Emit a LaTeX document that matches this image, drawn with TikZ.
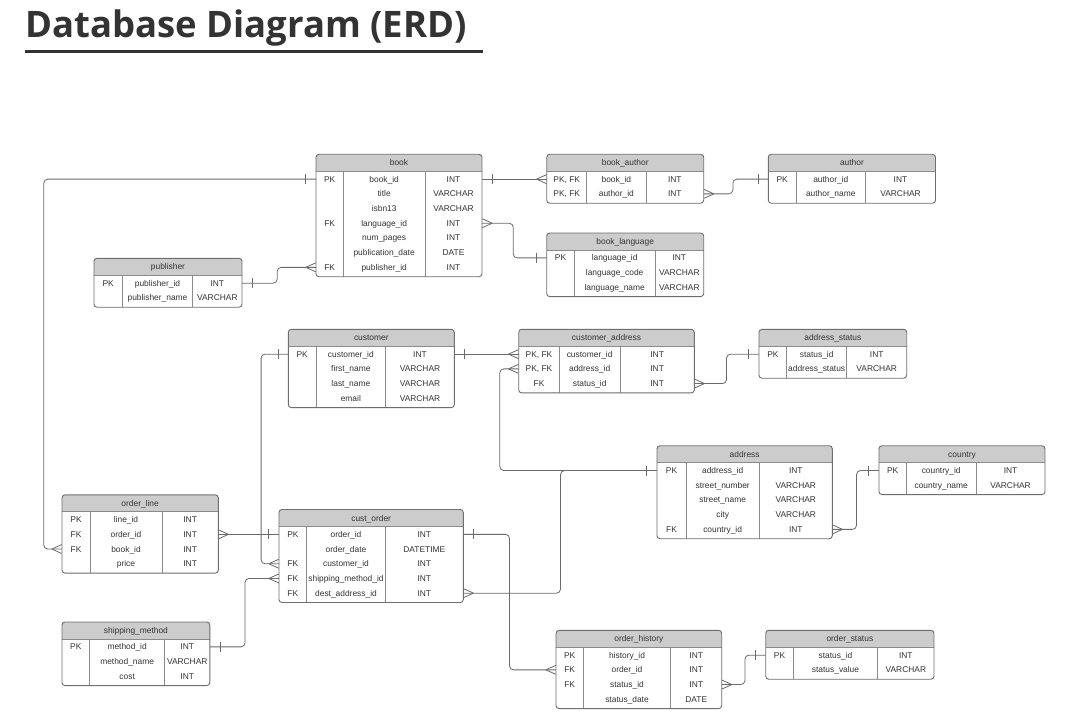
\documentclass[tikz,border=0pt]{standalone}
\usepackage{fontspec}
\setmainfont{Liberation Sans}
\newfontfamily\titlefont{Open Sans}
\usetikzlibrary{calc}
\definecolor{ink}{HTML}{333333}
\definecolor{hdrfill}{HTML}{CCCCCC}
\definecolor{edgegray}{HTML}{6E6E6E}
\definecolor{wire}{HTML}{6A6A6A}
\tikzset{
  tblframe/.style={draw=edgegray, line width=0.9pt, rounded corners=3pt},
  tblline/.style={draw=edgegray!80, line width=0.7pt},
  hdrtext/.style={font=\fontsize{8.4}{10}\selectfont, text=ink, inner sep=0pt, text height=6pt, text depth=0pt},
  celltext/.style={font=\fontsize{8.4}{10}\selectfont, text=ink, inner sep=0pt, text height=6pt, text depth=0pt},
  rowbox/.style={inner sep=0pt, minimum height=14.7pt},
  conn/.style={draw=wire, line width=0.8pt, rounded corners=4pt},
  endmark/.style={draw=wire, line width=0.8pt},
}
\newcommand\pkfk{PK, FK}
\newcommand\erdtable[9]{%
  \pgfmathsetmacro\tblW{#4+#5+#6}%
  \pgfmathsetmacro\tblH{17.5+#7*14.7+2}%
  \begin{scope}
    \clip[rounded corners=3pt] (#2,#3) rectangle ++(\tblW,\tblH);
    \fill[white] (#2,#3) rectangle ++(\tblW,\tblH);
    \fill[hdrfill] (#2,#3) rectangle ++(\tblW,17);
  \end{scope}
  \draw[tblline] (#2,#3+17) -- ++(\tblW,0);
  \draw[tblline] (#2+#4,#3+17) -- (#2+#4,#3+\tblH);
  \draw[tblline] (#2+#4+#5,#3+17) -- (#2+#4+#5,#3+\tblH);
  \draw[tblframe] (#2,#3) rectangle ++(\tblW,\tblH);
  \node[hdrtext] (#1) at (#2+\tblW/2,#3+8.5) {#8};
  \foreach \colA/\colB/\colC [count=\i] in {#9} {
    \pgfmathsetmacro\cy{#3+24.85+(\i-1)*14.7}
    \node[rowbox, minimum width=\tblW pt] (#1-\i) at (#2+\tblW/2,\cy) {};
    \node[celltext] at (#2+#4/2,\cy) {\colA};
    \node[celltext] at (#2+#4+#5/2,\cy) {\colB};
    \node[celltext] at (#2+#4+#5+#6/2,\cy) {\colC};
  }
}
\newcommand\crowL[1]{\draw[endmark] ($(#1)+(-10,0)$) -- ($(#1)+(0,-4.5)$) ($(#1)+(-10,0)$) -- ($(#1)+(0,4.5)$);}
\newcommand\crowR[1]{\draw[endmark] ($(#1)+(10,0)$) -- ($(#1)+(0,-4.5)$) ($(#1)+(10,0)$) -- ($(#1)+(0,4.5)$);}
\newcommand\tickL[1]{\draw[endmark] ($(#1)+(-10,-5)$) -- ($(#1)+(-10,5)$);}
\newcommand\tickR[1]{\draw[endmark] ($(#1)+(10,-5)$) -- ($(#1)+(10,5)$);}
\begin{document}
\begin{tikzpicture}[x=1pt,y=-1pt]
\useasboundingbox (0,0) rectangle (1091,722);
\fill[white] (0,0) rectangle (1091,722);
\node[anchor=base west, font=\titlefont\bfseries\fontsize{36.5}{42}\selectfont, text=ink, inner sep=0pt] (title) at (25,37.7) {Database Diagram (ERD)};
\draw[ink, line width=3pt] (25,51.3) -- (483,51.3);

% tables
\erdtable{book}{316}{154.3}{27.3}{81.7}{57}{7}{book}{PK/book\_id/INT, /title/VARCHAR, /isbn13/VARCHAR, FK/language\_id/INT, /num\_pages/INT, /publication\_date/DATE, FK/publisher\_id/INT}
\erdtable{bookauthor}{546.7}{154.3}{40}{59.3}{57.7}{2}{book\_author}{\pkfk/book\_id/INT, \pkfk/author\_id/INT}
\erdtable{author}{768.3}{154.3}{27.7}{69.5}{70}{2}{author}{PK/author\_id/INT, /author\_name/VARCHAR}
\erdtable{booklang}{546.7}{233}{27.6}{80.7}{48.7}{3}{book\_language}{PK/language\_id/INT, /language\_code/VARCHAR, /language\_name/VARCHAR}
\erdtable{publisher}{94}{258.3}{28.3}{70.4}{49.3}{2}{publisher}{PK/publisher\_id/INT, /publisher\_name/VARCHAR}
\erdtable{customer}{288.3}{329.3}{27.7}{69.7}{68.6}{4}{customer}{PK/customer\_id/INT, /first\_name/VARCHAR, /last\_name/VARCHAR, /email/VARCHAR}
\erdtable{custaddr}{518.7}{329.3}{40.6}{60.7}{74.3}{3}{customer\_address}{\pkfk/customer\_id/INT, \pkfk/address\_id/INT, FK/status\_id/INT}
\erdtable{addrstatus}{759}{329.3}{27.7}{60}{60}{2}{address\_status}{PK/status\_id/INT, /address\_status/VARCHAR}
\erdtable{address}{657}{445.7}{29}{73.3}{73}{5}{address}{PK/address\_id/INT, /street\_number/VARCHAR, /street\_name/VARCHAR, /city/VARCHAR, FK/country\_id/INT}
\erdtable{country}{879}{445.7}{27.3}{69.7}{69}{2}{country}{PK/country\_id/INT, /country\_name/VARCHAR}
\erdtable{orderline}{62}{494.8}{28}{72}{56.3}{4}{order\_line}{PK/line\_id/INT, FK/order\_id/INT, FK/book\_id/INT, /price/INT}
\erdtable{custorder}{279}{509.5}{27.7}{78.6}{78}{5}{cust\_order}{PK/order\_id/INT, /order\_date/DATETIME, FK/customer\_id/INT, FK/shipping\_method\_id/INT, FK/dest\_address\_id/INT}
\erdtable{shipmethod}{62}{622}{27.6}{75.1}{45.1}{3}{shipping\_method}{PK/method\_id/INT, /method\_name/VARCHAR, /cost/INT}
\erdtable{orderhist}{556}{630.3}{27.3}{87.4}{51}{4}{order\_history}{PK/history\_id/INT, FK/order\_id/INT, FK/status\_id/INT, /status\_date/DATE}
\erdtable{orderstatus}{765.7}{630.3}{27.6}{84.4}{56.3}{2}{order\_status}{PK/status\_id/INT, /status\_value/VARCHAR}

% connectors
\draw[conn] (book-1.west) -- ++(-272,0) |- (orderline-3.west);
\draw[conn] (book-1.east) -- (bookauthor-1.west);
\draw[conn] (bookauthor-2.east) -- ++(29,0) |- (author-1.west);
\draw[conn] (book-4.east) -- ++(31,0) |- (booklang-1.west);
\draw[conn] (publisher-1.east) -- ++(35,0) |- (book-7.west);
\draw[conn] (customer-1.west) -- ++(-27,0) |- (custorder-3.west);
\draw[conn] (customer-1.east) -- (custaddr-1.west);
\draw[conn] (custaddr-3.east) -- ++(32,0) |- (addrstatus-1.west);
\draw[conn] (address-1.west) -- ++(-157,0) |- (custaddr-2.west);
\draw[conn] (custorder-5.east) -- ++(97,0) |- (address-1.west);
\draw[conn] (custorder-1.east) -- ++(46,0) |- (orderhist-2.west);
\draw[conn] (orderhist-3.east) -- ++(23,0) |- (orderstatus-1.west);
\draw[conn] (address-5.east) -- ++(24,0) |- (country-1.west);
\draw[conn] (orderline-2.east) -- (custorder-1.west);
\draw[conn] (shipmethod-1.east) -- ++(35,0) |- (custorder-4.west);

% end marks
\tickL{book-1.west} \crowL{orderline-3.west}
\tickR{book-1.east} \crowL{bookauthor-1.west}
\crowR{bookauthor-2.east} \tickL{author-1.west}
\crowR{book-4.east} \tickL{booklang-1.west}
\tickR{publisher-1.east} \crowL{book-7.west}
\tickL{customer-1.west} \crowL{custorder-3.west}
\tickR{customer-1.east} \crowL{custaddr-1.west}
\crowR{custaddr-3.east} \tickL{addrstatus-1.west}
\tickL{address-1.west} \crowL{custaddr-2.west}
\crowR{custorder-5.east}
\tickR{custorder-1.east} \crowL{orderhist-2.west}
\crowR{orderhist-3.east} \tickL{orderstatus-1.west}
\crowR{address-5.east} \tickL{country-1.west}
\crowR{orderline-2.east} \tickL{custorder-1.west}
\tickR{shipmethod-1.east} \crowL{custorder-4.west}
\end{tikzpicture}
\end{document}
